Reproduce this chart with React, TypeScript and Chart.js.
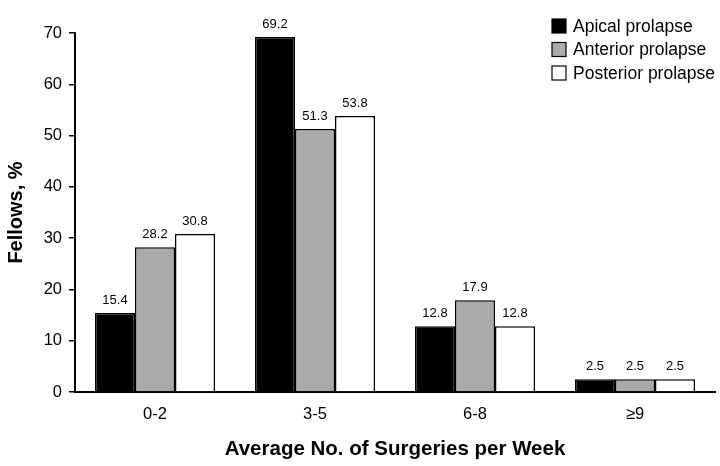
import React, { useEffect, useRef } from "react";
import Chart from "chart.js/auto";

const categories = ["0-2", "3-5", "6-8", "≥9"];
const seriesNames = ["Apical prolapse", "Anterior prolapse", "Posterior prolapse"];
const apical = [15.4, 69.2, 12.8, 2.5];
const anterior = [28.2, 51.3, 17.9, 2.5];
const posterior = [30.8, 53.8, 12.8, 2.5];
const fills = ["#000000", "#aaaaaa", "#ffffff"];
const yTicks = [0, 10, 20, 30, 40, 50, 60, 70];

const FONT = "'Liberation Sans', Arial, sans-serif";

// value labels above each bar
const barLabels = {
  id: "barLabels",
  afterDatasetsDraw(chart: any) {
    const ctx = chart.ctx;
    ctx.save();
    ctx.font = `13px ${FONT}`;
    ctx.fillStyle = "#000";
    ctx.textAlign = "center";
    ctx.textBaseline = "bottom";
    chart.data.datasets.forEach((ds: any, i: number) => {
      chart.getDatasetMeta(i).data.forEach((bar: any, j: number) => {
        ctx.fillText(ds.data[j].toFixed(1), bar.x, bar.y - 6);
      });
    });
    ctx.restore();
  },
};

// boxed legend in the top-right corner
const boxLegend = {
  id: "boxLegend",
  afterDraw(chart: any) {
    const ctx = chart.ctx;
    const x = chart.chartArea.right - 163;
    ctx.save();
    ctx.font = `17.5px ${FONT}`;
    ctx.textBaseline = "middle";
    chart.data.datasets.forEach((ds: any, i: number) => {
      const y = 26 + i * 23.5;
      ctx.fillStyle = ds.backgroundColor;
      ctx.fillRect(x, y - 7, 14, 14);
      ctx.strokeStyle = "#000";
      ctx.lineWidth = 1.2;
      ctx.strokeRect(x, y - 7, 14, 14);
      ctx.fillStyle = "#000";
      ctx.fillText(ds.label, x + 21, y + 1);
    });
    ctx.restore();
  },
};

const App: React.FC = () => {
  const chartRef = useRef<HTMLCanvasElement | null>(null);

  useEffect(() => {
    document.body.style.margin = "0";
    if (!chartRef.current) return;
    const series = [apical, anterior, posterior];
    const chart = new Chart(chartRef.current, {
      type: "bar",
      data: {
        labels: categories,
        datasets: series.map((values, i) => ({
          label: seriesNames[i],
          data: values,
          backgroundColor: fills[i],
          borderColor: "#000",
          borderWidth: 1.5,
          categoryPercentage: 0.75,
          barPercentage: 1,
        })),
      },
      options: {
        animation: false,
        responsive: true,
        maintainAspectRatio: false,
        layout: { padding: { top: 33, right: 5, left: 0, bottom: 0 } },
        plugins: {
          legend: { display: false },
          tooltip: { enabled: false },
        },
        scales: {
          x: {
            grid: { display: false },
            border: { display: true, color: "#000", width: 2 },
            ticks: {
              color: "#000",
              font: { family: FONT, size: 16.5 },
              padding: 5,
            },
            title: {
              display: true,
              text: "Average No. of Surgeries per Week",
              color: "#000",
              font: { family: FONT, size: 20.5, weight: "bold" },
              padding: { top: 12 },
            },
            afterFit: (scale: any) => {
              scale.height = 74;
            },
          },
          y: {
            min: 0,
            max: 70,
            afterBuildTicks: (scale: any) => {
              scale.ticks = yTicks.map((v) => ({ value: v }));
            },
            grid: {
              display: true,
              drawOnChartArea: false,
              drawTicks: true,
              tickLength: 6,
              color: "#000",
              lineWidth: 1.5,
            },
            border: { display: true, color: "#000", width: 2 },
            ticks: {
              color: "#000",
              font: { family: FONT, size: 16.5 },
              padding: 7,
            },
            title: {
              display: true,
              text: "Fellows, %",
              color: "#000",
              font: { family: FONT, size: 20, weight: "bold" },
              padding: { bottom: 4 },
            },
            afterFit: (scale: any) => {
              scale.width = 75;
            },
          },
        },
      },
      plugins: [barLabels, boxLegend],
    });
    return () => {
      chart.destroy();
    };
  }, []);

  return (
    <div style={{ width: 720, height: 466, position: "relative", background: "#fff" }}>
      <canvas ref={chartRef} />
    </div>
  );
};

export default App;
